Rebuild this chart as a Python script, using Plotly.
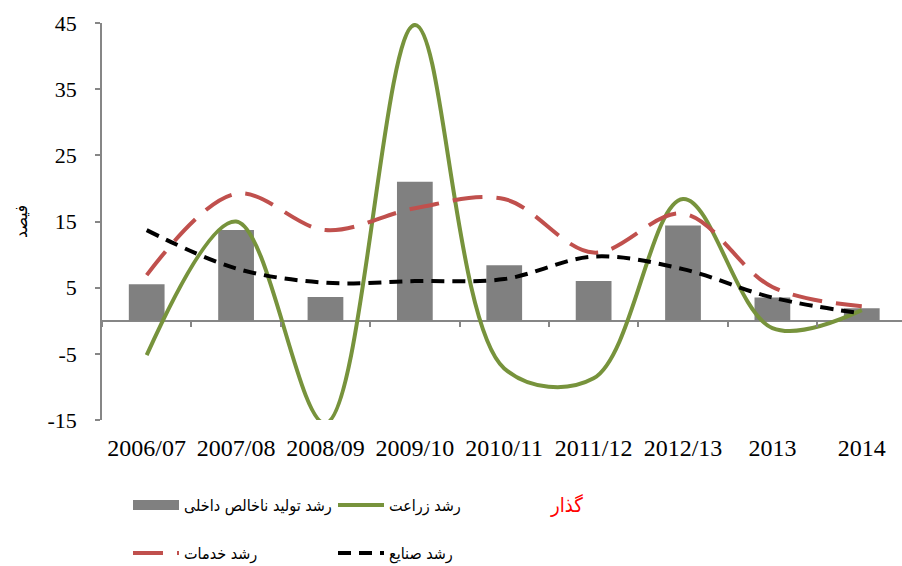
import plotly.graph_objects as go

categories = ["2006/07", "2007/08", "2008/09", "2009/10", "2010/11",
              "2011/12", "2012/13", "2013", "2014"]
gdp_growth = [5.5, 13.7, 3.6, 21.0, 8.4, 6.0, 14.4, 3.5, 1.9]
agri_growth = [-5.2, 15.0, -15.5, 44.7, -7.2, -8.7, 18.4, -1.1, 1.6]
services_growth = [6.9, 19.2, 13.7, 17.0, 18.4, 10.3, 16.2, 5.1, 2.2]
industry_growth = [13.7, 7.9, 5.75, 6.0, 6.3, 9.7, 7.8, 3.5, 1.1]

y_ticks = [-15, -5, 5, 15, 25, 35, 45]

name_gdp = "رشد تولید ناخالص داخلی"
name_agri = "رشد زراعت"
name_serv = "رشد خدمات"
name_ind = "رشد صنایع"
y_title = "فیصد"
stray_label = "گذار"

AX = "#868686"
SERIF = "Liberation Serif, Times New Roman, serif"
ARAB = "DejaVu Sans Condensed, DejaVu Sans, sans-serif"

fig = go.Figure()
fig.add_trace(go.Bar(x=categories, y=gdp_growth, name=name_gdp,
                     marker=dict(color="#808080", line=dict(width=0)),
                     width=0.4, showlegend=False))
# legend-only entry giving the bar series a wide box symbol
fig.add_trace(go.Scatter(x=[None], y=[None], name=name_gdp, mode="lines",
                         line=dict(color="#808080", width=13), legend="legend",
                         hoverinfo="skip"))
fig.add_trace(go.Scatter(x=categories, y=agri_growth, name=name_agri, mode="lines",
                         line=dict(color="#77933C", width=4, shape="spline", smoothing=1),
                         legend="legend"))
fig.add_trace(go.Scatter(x=categories, y=services_growth, name=name_serv, mode="lines",
                         line=dict(color="#C0504D", width=4, shape="spline", smoothing=1,
                                   dash="30px,14px"),
                         legend="legend2"))
fig.add_trace(go.Scatter(x=categories, y=industry_growth, name=name_ind, mode="lines",
                         line=dict(color="#000000", width=4, shape="spline", smoothing=1,
                                   dash="13px,8px"),
                         legend="legend2"))
# helper trace for the tick axis at y = 0
fig.add_trace(go.Scatter(x=categories, y=[None] * len(categories), xaxis="x2",
                         showlegend=False, hoverinfo="skip", mode="lines"))

fig.update_layout(
    width=902, height=566,
    margin=dict(l=102, r=0, t=23, b=146, autoexpand=False),
    paper_bgcolor="white", plot_bgcolor="white",
    xaxis=dict(type="category", categoryorder="array", categoryarray=categories,
               range=[-0.5, 8.45], showline=False, showgrid=False, zeroline=False,
               ticks="", ticklabelstandoff=11, automargin=False,
               tickfont=dict(family=SERIF, size=24, color="black")),
    xaxis2=dict(type="category", categoryorder="array", categoryarray=categories,
                range=[-0.5, 8.45], overlaying="x", anchor="free", position=0.25,
                side="bottom", showline=False, showgrid=False, zeroline=False,
                ticks="outside", tickson="boundaries", ticklen=5, tickwidth=1.5,
                tickcolor=AX, showticklabels=False, automargin=False),
    yaxis=dict(range=[-15, 45], tickmode="array", tickvals=y_ticks,
               ticktext=[str(v) for v in y_ticks], automargin=False,
               showline=True, linecolor=AX, linewidth=1.5,
               ticks="outside", ticklen=5, tickwidth=1.5, tickcolor=AX,
               ticklabelstandoff=14,
               showgrid=False, zeroline=True, zerolinecolor=AX, zerolinewidth=1.5,
               tickfont=dict(family=SERIF, size=22, color="black"),
               title=dict(text=y_title, standoff=16,
                          font=dict(family=ARAB, size=17, color="black"))),
    legend=dict(orientation="h", xref="container", yref="container",
                x=128 / 902, y=1 - 505 / 566, xanchor="left", yanchor="middle",
                entrywidth=144, itemwidth=46, bgcolor="rgba(0,0,0,0)",
                font=dict(family=ARAB, size=16, color="black"), traceorder="normal"),
    legend2=dict(orientation="h", xref="container", yref="container",
                 x=128 / 902, y=1 - 553 / 566, xanchor="left", yanchor="middle",
                 entrywidth=144, itemwidth=46, bgcolor="rgba(0,0,0,0)",
                 font=dict(family=ARAB, size=16, color="black"), traceorder="normal"),
    annotations=[dict(text=stray_label, xref="paper", yref="paper",
                      x=(566 - 102) / 800, y=(420 - 505) / 397,
                      xanchor="center", yanchor="middle", showarrow=False,
                      font=dict(family=ARAB, size=20, color="#FF0000"))],
)

fig.write_html("out.html", config={"displayModeBar": False},
               post_script="document.body.style.margin='0px';"
                           "document.body.style.padding='0px';"
                           "document.body.style.overflow='hidden';")
